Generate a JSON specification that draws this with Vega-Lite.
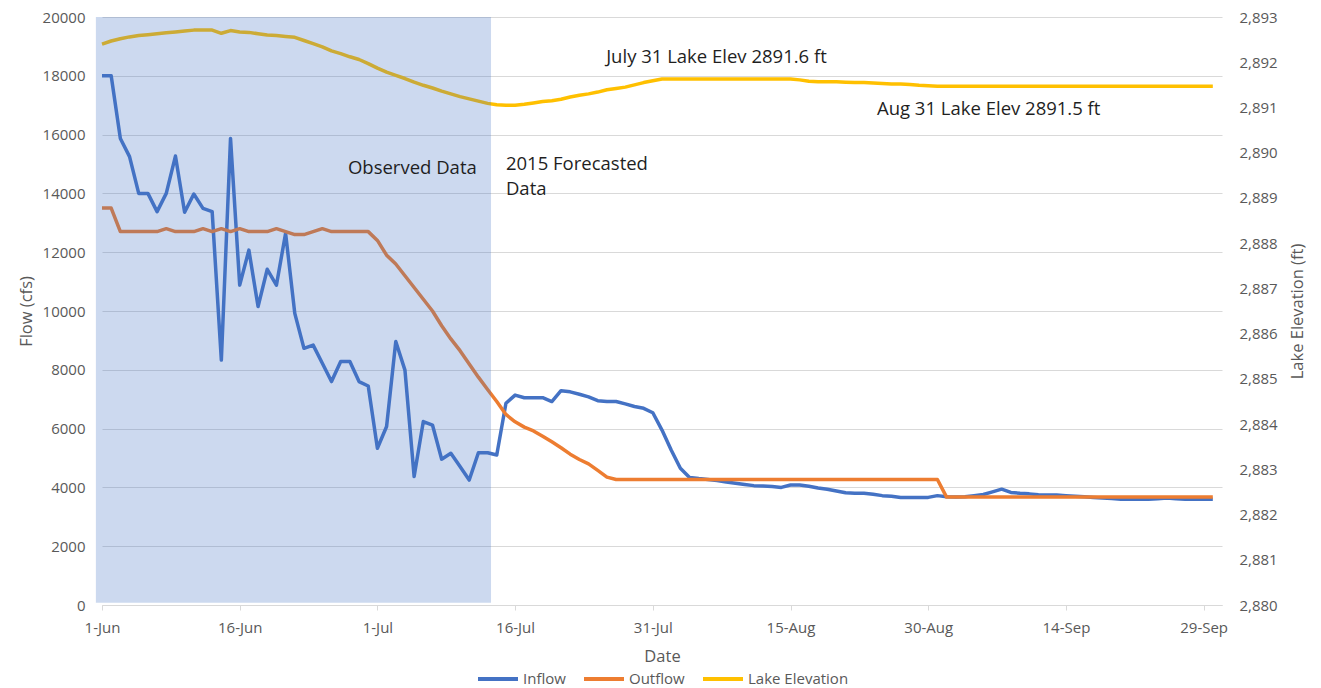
{
  "$schema": "https://vega.github.io/schema/vega-lite/v6.json",
  "width": 1120,
  "height": 588,
  "autosize": {"type": "none"},
  "padding": {"left": 102, "top": 17, "right": 99, "bottom": 83},
  "background": "white",
  "config": {
    "font": "Open Sans",
    "view": {"stroke": null},
    "axis": {
      "labelFont": "Open Sans",
      "labelColor": "#595959",
      "labelFontSize": 15,
      "titleFont": "Open Sans",
      "titleColor": "#595959",
      "titleFontSize": 16.5,
      "titleFontWeight": "normal"
    },
    "legend": {
      "layout": {"bottom": {"anchor": "middle"}}
    }
  },
  "datasets": {
    "flow": [
      {"date":"2015-06-01","Inflow":18000,"Outflow":13500,"Lake Elevation":2892.40},
      {"date":"2015-06-02","Inflow":18000,"Outflow":13500,"Lake Elevation":2892.47},
      {"date":"2015-06-03","Inflow":15870,"Outflow":12700,"Lake Elevation":2892.52},
      {"date":"2015-06-04","Inflow":15250,"Outflow":12700,"Lake Elevation":2892.56},
      {"date":"2015-06-05","Inflow":14000,"Outflow":12700,"Lake Elevation":2892.59},
      {"date":"2015-06-06","Inflow":14000,"Outflow":12700,"Lake Elevation":2892.61},
      {"date":"2015-06-07","Inflow":13380,"Outflow":12700,"Lake Elevation":2892.63},
      {"date":"2015-06-08","Inflow":14000,"Outflow":12800,"Lake Elevation":2892.65},
      {"date":"2015-06-09","Inflow":15270,"Outflow":12700,"Lake Elevation":2892.67},
      {"date":"2015-06-10","Inflow":13360,"Outflow":12700,"Lake Elevation":2892.69},
      {"date":"2015-06-11","Inflow":13980,"Outflow":12700,"Lake Elevation":2892.71},
      {"date":"2015-06-12","Inflow":13490,"Outflow":12800,"Lake Elevation":2892.71},
      {"date":"2015-06-13","Inflow":13380,"Outflow":12700,"Lake Elevation":2892.71},
      {"date":"2015-06-14","Inflow":8330,"Outflow":12800,"Lake Elevation":2892.64},
      {"date":"2015-06-15","Inflow":15870,"Outflow":12700,"Lake Elevation":2892.70},
      {"date":"2015-06-16","Inflow":10880,"Outflow":12800,"Lake Elevation":2892.67},
      {"date":"2015-06-17","Inflow":12070,"Outflow":12700,"Lake Elevation":2892.66},
      {"date":"2015-06-18","Inflow":10150,"Outflow":12700,"Lake Elevation":2892.63},
      {"date":"2015-06-19","Inflow":11420,"Outflow":12700,"Lake Elevation":2892.60},
      {"date":"2015-06-20","Inflow":10880,"Outflow":12800,"Lake Elevation":2892.59},
      {"date":"2015-06-21","Inflow":12640,"Outflow":12700,"Lake Elevation":2892.57},
      {"date":"2015-06-22","Inflow":9920,"Outflow":12600,"Lake Elevation":2892.55},
      {"date":"2015-06-23","Inflow":8730,"Outflow":12600,"Lake Elevation":2892.48},
      {"date":"2015-06-24","Inflow":8840,"Outflow":12700,"Lake Elevation":2892.41},
      {"date":"2015-06-25","Inflow":8220,"Outflow":12800,"Lake Elevation":2892.34},
      {"date":"2015-06-26","Inflow":7600,"Outflow":12700,"Lake Elevation":2892.25},
      {"date":"2015-06-27","Inflow":8280,"Outflow":12700,"Lake Elevation":2892.19},
      {"date":"2015-06-28","Inflow":8280,"Outflow":12700,"Lake Elevation":2892.12},
      {"date":"2015-06-29","Inflow":7600,"Outflow":12700,"Lake Elevation":2892.06},
      {"date":"2015-06-30","Inflow":7450,"Outflow":12700,"Lake Elevation":2891.97},
      {"date":"2015-07-01","Inflow":5330,"Outflow":12400,"Lake Elevation":2891.87},
      {"date":"2015-07-02","Inflow":6070,"Outflow":11900,"Lake Elevation":2891.78},
      {"date":"2015-07-03","Inflow":8960,"Outflow":11600,"Lake Elevation":2891.71},
      {"date":"2015-07-04","Inflow":7990,"Outflow":11200,"Lake Elevation":2891.64},
      {"date":"2015-07-05","Inflow":4370,"Outflow":10800,"Lake Elevation":2891.56},
      {"date":"2015-07-06","Inflow":6240,"Outflow":10400,"Lake Elevation":2891.49},
      {"date":"2015-07-07","Inflow":6120,"Outflow":10000,"Lake Elevation":2891.43},
      {"date":"2015-07-08","Inflow":4960,"Outflow":9500,"Lake Elevation":2891.36},
      {"date":"2015-07-09","Inflow":5160,"Outflow":9050,"Lake Elevation":2891.30},
      {"date":"2015-07-10","Inflow":4710,"Outflow":8650,"Lake Elevation":2891.24},
      {"date":"2015-07-11","Inflow":4250,"Outflow":8200,"Lake Elevation":2891.19},
      {"date":"2015-07-12","Inflow":5180,"Outflow":7750,"Lake Elevation":2891.14},
      {"date":"2015-07-13","Inflow":5180,"Outflow":7330,"Lake Elevation":2891.09},
      {"date":"2015-07-14","Inflow":5100,"Outflow":6920,"Lake Elevation":2891.06},
      {"date":"2015-07-15","Inflow":6860,"Outflow":6480,"Lake Elevation":2891.05},
      {"date":"2015-07-16","Inflow":7140,"Outflow":6230,"Lake Elevation":2891.05},
      {"date":"2015-07-17","Inflow":7050,"Outflow":6050,"Lake Elevation":2891.07},
      {"date":"2015-07-18","Inflow":7050,"Outflow":5920,"Lake Elevation":2891.10},
      {"date":"2015-07-19","Inflow":7050,"Outflow":5740,"Lake Elevation":2891.13},
      {"date":"2015-07-20","Inflow":6920,"Outflow":5550,"Lake Elevation":2891.15},
      {"date":"2015-07-21","Inflow":7290,"Outflow":5350,"Lake Elevation":2891.18},
      {"date":"2015-07-22","Inflow":7250,"Outflow":5130,"Lake Elevation":2891.23},
      {"date":"2015-07-23","Inflow":7170,"Outflow":4950,"Lake Elevation":2891.27},
      {"date":"2015-07-24","Inflow":7080,"Outflow":4800,"Lake Elevation":2891.30},
      {"date":"2015-07-25","Inflow":6950,"Outflow":4580,"Lake Elevation":2891.34},
      {"date":"2015-07-26","Inflow":6920,"Outflow":4350,"Lake Elevation":2891.39},
      {"date":"2015-07-27","Inflow":6920,"Outflow":4270,"Lake Elevation":2891.42},
      {"date":"2015-07-28","Inflow":6840,"Outflow":4270,"Lake Elevation":2891.45},
      {"date":"2015-07-29","Inflow":6750,"Outflow":4270,"Lake Elevation":2891.50},
      {"date":"2015-07-30","Inflow":6690,"Outflow":4270,"Lake Elevation":2891.55},
      {"date":"2015-07-31","Inflow":6540,"Outflow":4270,"Lake Elevation":2891.59},
      {"date":"2015-08-01","Inflow":5950,"Outflow":4270,"Lake Elevation":2891.63},
      {"date":"2015-08-02","Inflow":5270,"Outflow":4270,"Lake Elevation":2891.63},
      {"date":"2015-08-03","Inflow":4650,"Outflow":4270,"Lake Elevation":2891.63},
      {"date":"2015-08-04","Inflow":4340,"Outflow":4270,"Lake Elevation":2891.63},
      {"date":"2015-08-05","Inflow":4300,"Outflow":4270,"Lake Elevation":2891.63},
      {"date":"2015-08-06","Inflow":4270,"Outflow":4270,"Lake Elevation":2891.63},
      {"date":"2015-08-07","Inflow":4230,"Outflow":4270,"Lake Elevation":2891.63},
      {"date":"2015-08-08","Inflow":4180,"Outflow":4270,"Lake Elevation":2891.63},
      {"date":"2015-08-09","Inflow":4140,"Outflow":4270,"Lake Elevation":2891.63},
      {"date":"2015-08-10","Inflow":4100,"Outflow":4270,"Lake Elevation":2891.63},
      {"date":"2015-08-11","Inflow":4060,"Outflow":4270,"Lake Elevation":2891.63},
      {"date":"2015-08-12","Inflow":4050,"Outflow":4270,"Lake Elevation":2891.63},
      {"date":"2015-08-13","Inflow":4030,"Outflow":4270,"Lake Elevation":2891.63},
      {"date":"2015-08-14","Inflow":4000,"Outflow":4270,"Lake Elevation":2891.63},
      {"date":"2015-08-15","Inflow":4080,"Outflow":4270,"Lake Elevation":2891.63},
      {"date":"2015-08-16","Inflow":4080,"Outflow":4270,"Lake Elevation":2891.61},
      {"date":"2015-08-17","Inflow":4040,"Outflow":4270,"Lake Elevation":2891.58},
      {"date":"2015-08-18","Inflow":3980,"Outflow":4270,"Lake Elevation":2891.57},
      {"date":"2015-08-19","Inflow":3935,"Outflow":4270,"Lake Elevation":2891.57},
      {"date":"2015-08-20","Inflow":3880,"Outflow":4270,"Lake Elevation":2891.57},
      {"date":"2015-08-21","Inflow":3820,"Outflow":4270,"Lake Elevation":2891.56},
      {"date":"2015-08-22","Inflow":3800,"Outflow":4270,"Lake Elevation":2891.55},
      {"date":"2015-08-23","Inflow":3800,"Outflow":4270,"Lake Elevation":2891.55},
      {"date":"2015-08-24","Inflow":3770,"Outflow":4270,"Lake Elevation":2891.54},
      {"date":"2015-08-25","Inflow":3720,"Outflow":4270,"Lake Elevation":2891.53},
      {"date":"2015-08-26","Inflow":3700,"Outflow":4270,"Lake Elevation":2891.52},
      {"date":"2015-08-27","Inflow":3660,"Outflow":4270,"Lake Elevation":2891.52},
      {"date":"2015-08-28","Inflow":3660,"Outflow":4270,"Lake Elevation":2891.51},
      {"date":"2015-08-29","Inflow":3660,"Outflow":4270,"Lake Elevation":2891.49},
      {"date":"2015-08-30","Inflow":3660,"Outflow":4270,"Lake Elevation":2891.48},
      {"date":"2015-08-31","Inflow":3720,"Outflow":4270,"Lake Elevation":2891.47},
      {"date":"2015-09-01","Inflow":3680,"Outflow":3670,"Lake Elevation":2891.47},
      {"date":"2015-09-02","Inflow":3670,"Outflow":3670,"Lake Elevation":2891.47},
      {"date":"2015-09-03","Inflow":3680,"Outflow":3670,"Lake Elevation":2891.47},
      {"date":"2015-09-04","Inflow":3720,"Outflow":3670,"Lake Elevation":2891.47},
      {"date":"2015-09-05","Inflow":3760,"Outflow":3670,"Lake Elevation":2891.47},
      {"date":"2015-09-06","Inflow":3850,"Outflow":3670,"Lake Elevation":2891.47},
      {"date":"2015-09-07","Inflow":3940,"Outflow":3670,"Lake Elevation":2891.47},
      {"date":"2015-09-08","Inflow":3830,"Outflow":3670,"Lake Elevation":2891.47},
      {"date":"2015-09-09","Inflow":3800,"Outflow":3670,"Lake Elevation":2891.47},
      {"date":"2015-09-10","Inflow":3780,"Outflow":3670,"Lake Elevation":2891.47},
      {"date":"2015-09-11","Inflow":3750,"Outflow":3670,"Lake Elevation":2891.47},
      {"date":"2015-09-12","Inflow":3740,"Outflow":3670,"Lake Elevation":2891.47},
      {"date":"2015-09-13","Inflow":3740,"Outflow":3670,"Lake Elevation":2891.47},
      {"date":"2015-09-14","Inflow":3720,"Outflow":3670,"Lake Elevation":2891.47},
      {"date":"2015-09-15","Inflow":3700,"Outflow":3670,"Lake Elevation":2891.47},
      {"date":"2015-09-16","Inflow":3680,"Outflow":3670,"Lake Elevation":2891.47},
      {"date":"2015-09-17","Inflow":3660,"Outflow":3670,"Lake Elevation":2891.47},
      {"date":"2015-09-18","Inflow":3640,"Outflow":3670,"Lake Elevation":2891.47},
      {"date":"2015-09-19","Inflow":3620,"Outflow":3670,"Lake Elevation":2891.47},
      {"date":"2015-09-20","Inflow":3600,"Outflow":3670,"Lake Elevation":2891.47},
      {"date":"2015-09-21","Inflow":3600,"Outflow":3670,"Lake Elevation":2891.47},
      {"date":"2015-09-22","Inflow":3600,"Outflow":3670,"Lake Elevation":2891.47},
      {"date":"2015-09-23","Inflow":3600,"Outflow":3670,"Lake Elevation":2891.47},
      {"date":"2015-09-24","Inflow":3610,"Outflow":3670,"Lake Elevation":2891.47},
      {"date":"2015-09-25","Inflow":3640,"Outflow":3670,"Lake Elevation":2891.47},
      {"date":"2015-09-26","Inflow":3610,"Outflow":3670,"Lake Elevation":2891.47},
      {"date":"2015-09-27","Inflow":3600,"Outflow":3670,"Lake Elevation":2891.47},
      {"date":"2015-09-28","Inflow":3600,"Outflow":3670,"Lake Elevation":2891.47},
      {"date":"2015-09-29","Inflow":3600,"Outflow":3670,"Lake Elevation":2891.47},
      {"date":"2015-09-30","Inflow":3600,"Outflow":3670,"Lake Elevation":2891.47}
    ],
    "shade": [
      {"x1":"2015-05-31T08:00:00Z","x2":"2015-07-13T09:00:00Z","y1":80,"y2":20000}
    ],
    "notes": [
      {"date":"2015-06-27T19:00:00Z","value":14660,"label":"Observed Data"},
      {"date":"2015-07-15T00:00:00Z","value":14790,"label":"2015 Forecasted"},
      {"date":"2015-07-15T00:00:00Z","value":13940,"label":"Data"},
      {"date":"2015-07-25T22:00:00Z","value":18440,"label":"July 31 Lake Elev 2891.6 ft"},
      {"date":"2015-08-24T10:00:00Z","value":16660,"label":"Aug 31 Lake Elev 2891.5 ft"}
    ]
  },
  "layer": [
    {
      "data": {"name": "flow"},
      "transform": [{"fold": ["Inflow", "Outflow"], "as": ["series", "value"]}],
      "mark": {"type": "line", "strokeWidth": 3.5, "strokeJoin": "round"},
      "encoding": {
        "x": {
          "field": "date", "type": "temporal",
          "scale": {"type": "utc", "domain": [{"year": 2015, "month": 6, "date": 1, "utc": true}, {"year": 2015, "month": 10, "date": 1, "utc": true}]},
          "axis": {
            "title": "Date",
            "values": [
              {"year": 2015, "month": 6, "date": 1, "utc": true},
              {"year": 2015, "month": 6, "date": 16, "utc": true},
              {"year": 2015, "month": 7, "date": 1, "utc": true},
              {"year": 2015, "month": 7, "date": 16, "utc": true},
              {"year": 2015, "month": 7, "date": 31, "utc": true},
              {"year": 2015, "month": 8, "date": 15, "utc": true},
              {"year": 2015, "month": 8, "date": 30, "utc": true},
              {"year": 2015, "month": 9, "date": 14, "utc": true},
              {"year": 2015, "month": 9, "date": 29, "utc": true}
            ],
            "labelExpr": "utcFormat(datum.value, '%-d-%b')",
            "grid": false, "domainColor": "#D9D9D9", "tickColor": "#D9D9D9",
            "tickSize": 5, "labelPadding": 10, "titlePadding": 13, "labelFlush": false
          }
        },
        "y": {
          "field": "value", "type": "quantitative",
          "scale": {"domain": [0, 20000], "nice": false},
          "axis": {
            "title": "Flow (cfs)",
            "values": [0, 2000, 4000, 6000, 8000, 10000, 12000, 14000, 16000, 18000, 20000],
            "format": "d", "domain": false, "ticks": false, "tickSize": 0,
            "labelPadding": 17, "titlePadding": 8,
            "gridColor": "#D9D9D9", "gridWidth": 1
          }
        },
        "color": {
          "field": "series", "type": "nominal",
          "scale": {"domain": ["Inflow", "Outflow", "Lake Elevation"], "range": ["#4472C4", "#ED7D31", "#FFC000"]},
          "legend": {
            "orient": "bottom", "direction": "horizontal", "title": null,
            "symbolType": "stroke", "symbolSize": 1600, "symbolStrokeWidth": 4,
            "labelFont": "Open Sans", "labelFontSize": 15, "labelColor": "#595959",
            "columnPadding": 10, "labelOffset": 3, "offset": -8
          }
        }
      }
    },
    {
      "data": {"name": "flow"},
      "transform": [{"fold": ["Lake Elevation"], "as": ["series", "value"]}],
      "mark": {"type": "line", "strokeWidth": 3.5, "strokeJoin": "round"},
      "encoding": {
        "x": {"field": "date", "type": "temporal", "scale": {"type": "utc", "domain": [{"year": 2015, "month": 6, "date": 1, "utc": true}, {"year": 2015, "month": 10, "date": 1, "utc": true}]}},
        "y": {
          "field": "value", "type": "quantitative",
          "scale": {"domain": [2880, 2893], "nice": false, "zero": false},
          "axis": {
            "orient": "right", "title": "Lake Elevation (ft)",
            "values": [2880, 2881, 2882, 2883, 2884, 2885, 2886, 2887, 2888, 2889, 2890, 2891, 2892, 2893],
            "format": ",d", "grid": false, "domain": false, "ticks": false, "tickSize": 0,
            "labelPadding": 17, "titlePadding": 12, "titleAngle": 270, "titleBaseline": "top"
          }
        },
        "color": {"field": "series", "type": "nominal"}
      }
    },
    {
      "data": {"name": "shade"},
      "mark": {"type": "rect", "color": "#4472C4", "opacity": 0.27, "clip": false},
      "encoding": {
        "x": {"field": "x1", "type": "temporal", "scale": {"type": "utc", "domain": [{"year": 2015, "month": 6, "date": 1, "utc": true}, {"year": 2015, "month": 10, "date": 1, "utc": true}]}},
        "x2": {"field": "x2"},
        "y": {"field": "y1", "type": "quantitative", "scale": {"domain": [0, 20000], "nice": false}, "axis": null},
        "y2": {"field": "y2"}
      }
    },
    {
      "data": {"name": "notes"},
      "mark": {"type": "text", "align": "left", "baseline": "alphabetic", "font": "Open Sans", "fontSize": 18.5, "color": "#1f1f1f"},
      "encoding": {
        "x": {"field": "date", "type": "temporal", "scale": {"type": "utc", "domain": [{"year": 2015, "month": 6, "date": 1, "utc": true}, {"year": 2015, "month": 10, "date": 1, "utc": true}]}},
        "y": {"field": "value", "type": "quantitative", "scale": {"domain": [0, 20000], "nice": false}, "axis": null},
        "text": {"field": "label", "type": "nominal"}
      }
    }
  ],
  "resolve": {"scale": {"y": "independent"}}
}
